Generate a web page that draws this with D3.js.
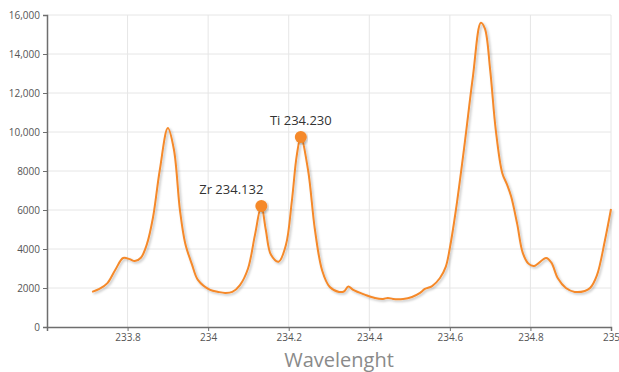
<!DOCTYPE html>
<html>
<head>
<meta charset="utf-8">
<script src="https://cdn.jsdelivr.net/npm/d3@7"></script>
<style>
  body { margin: 0; background: #fff; }
  svg { font-family: "Open Sans", sans-serif; }
</style>
</head>
<body>
<div id="chart"></div>
<script>
const w = 619;
const h = 372;
const margin = { top: 15, right: 8, bottom: 45, left: 47 };

// spectrum
const wavelength = [
  233.712, 233.73, 233.75, 233.77, 233.789, 233.805, 233.818, 233.833, 233.848, 233.863,
  233.88, 233.9, 233.915, 233.93, 233.943, 233.96, 233.975, 234.005, 234.025, 234.042,
  234.06, 234.079, 234.099, 234.116, 234.132, 234.143, 234.156, 234.175, 234.193, 234.208,
  234.22, 234.23, 234.248, 234.265, 234.283, 234.302, 234.325, 234.337, 234.348, 234.36,
  234.39, 234.414, 234.434, 234.446, 234.459, 234.484, 234.506, 234.526, 234.538, 234.556,
  234.575, 234.59, 234.6, 234.615, 234.637, 234.657, 234.677, 234.687, 234.7, 234.714,
  234.73, 234.742, 234.752, 234.767, 234.781, 234.795, 234.809, 234.839, 234.852, 234.868,
  234.888, 234.91, 234.935, 234.948, 234.965, 234.985, 235.0
];
const intensity = [
  1800, 1950, 2250, 2950, 3540, 3480, 3380, 3550, 4250, 5600,
  8050, 10200, 9100, 6000, 4300, 3200, 2400, 1900, 1800, 1750,
  1800, 2150, 3000, 4700, 6200, 5000, 3700, 3350, 4200, 6500,
  8800, 9740, 8050, 5000, 2900, 2050, 1800, 1820, 2080, 1900,
  1650, 1490, 1440, 1490, 1440, 1440, 1540, 1750, 1950, 2100,
  2500, 3100, 4050, 6000, 9440, 12800, 15600, 15300, 13200, 10100,
  7900, 7300, 6700, 5300, 3800, 3250, 3130, 3540, 3300, 2500,
  2000, 1800, 1850, 2000, 2650, 4450, 6050
];

const xTicks = [233.8, 234, 234.2, 234.4, 234.6, 234.8, 235];
const yTicks = [0, 2000, 4000, 6000, 8000, 10000, 12000, 14000, 16000];

const peaks = [
  { label: "Zr 234.132", x: 234.132, y: 6200 },
  { label: "Ti 234.230", x: 234.23, y: 9740 }
];

const data = wavelength.map((d, i) => ({ x: d, y: intensity[i] }));

let xScale = d3.scaleLinear().domain([233.6, 235]).range([margin.left, w - margin.right]);
let yScale = d3.scaleLinear().domain([0, 16000]).range([h - margin.bottom, margin.top]);

let svg = d3.select("#chart").append("svg").attr("width", w).attr("height", h);

let defs = svg.append("defs");
let f = defs.append("filter").attr("id", "shadow").attr("x", "-10%").attr("y", "-10%")
  .attr("width", "120%").attr("height", "120%");
f.append("feDropShadow").attr("dx", 1.5).attr("dy", 1.5).attr("stdDeviation", 1)
  .attr("flood-color", "#000").attr("flood-opacity", 0.25);

// grid
svg.append("g")
  .selectAll("line")
  .data(yTicks.slice(1))
  .enter()
  .append("line")
  .attr("x1", margin.left)
  .attr("x2", w - margin.right)
  .attr("y1", d => yScale(d))
  .attr("y2", d => yScale(d))
  .attr("stroke", "#e6e6e6");

svg.append("g")
  .selectAll("line")
  .data(xTicks)
  .enter()
  .append("line")
  .attr("x1", d => xScale(d))
  .attr("x2", d => xScale(d))
  .attr("y1", margin.top)
  .attr("y2", h - margin.bottom)
  .attr("stroke", "#e6e6e6");

// axes
let fmtY = d => (d >= 10000 ? d3.format(",")(d) : String(d));
let yAxis = svg.append("g")
  .attr("transform", `translate(${margin.left},0)`)
  .call(d3.axisLeft(yScale).tickValues(yTicks).tickFormat(fmtY).tickSize(4).tickPadding(3));
let xAxis = svg.append("g")
  .attr("transform", `translate(0,${h - margin.bottom})`)
  .call(d3.axisBottom(xScale).tickValues(xTicks).tickFormat(d3.format("")).tickSize(4).tickPadding(3));

[xAxis, yAxis].forEach(a => {
  a.select(".domain").attr("stroke", "#6e6e6e").attr("stroke-width", 1.5);
  a.selectAll(".tick line").attr("stroke", "#6e6e6e");
  a.selectAll("text").attr("fill", "#555").attr("font-size", 10)
    .attr("font-family", "'Open Sans', sans-serif");
});

// spectrum
let line = d3.line().x(d => xScale(d.x)).y(d => yScale(d.y)).curve(d3.curveCatmullRom.alpha(0.5));
svg.append("path")
  .datum(data)
  .attr("d", line)
  .attr("fill", "none")
  .attr("stroke", "#f5892a")
  .attr("stroke-width", 2)
  .attr("filter", "url(#shadow)");

// peak markers
let marks = svg.selectAll(".peak").data(peaks).enter().append("g").attr("class", "peak");
marks.append("circle")
  .attr("cx", d => xScale(d.x))
  .attr("cy", d => yScale(d.y))
  .attr("r", 6)
  .attr("fill", "#f5892a")
  .attr("filter", "url(#shadow)");
marks.append("text")
  .text(d => d.label)
  .attr("x", d => xScale(d.x))
  .attr("y", d => yScale(d.y) - 12)
  .attr("text-anchor", "middle")
  .attr("fill", "#333")
  .attr("font-size", 13);
// Zr label sits to the left of its marker
marks.filter(d => d.label.startsWith("Zr")).select("text")
  .attr("x", d => xScale(d.x) - 30);

svg.append("text")
  .text("Wavelenght")
  .attr("x", (margin.left + w - margin.right) / 2 + 10)
  .attr("y", 367)
  .attr("text-anchor", "middle")
  .attr("fill", "#8a8a8a")
  .attr("font-size", 20);
</script>
</body>
</html>
